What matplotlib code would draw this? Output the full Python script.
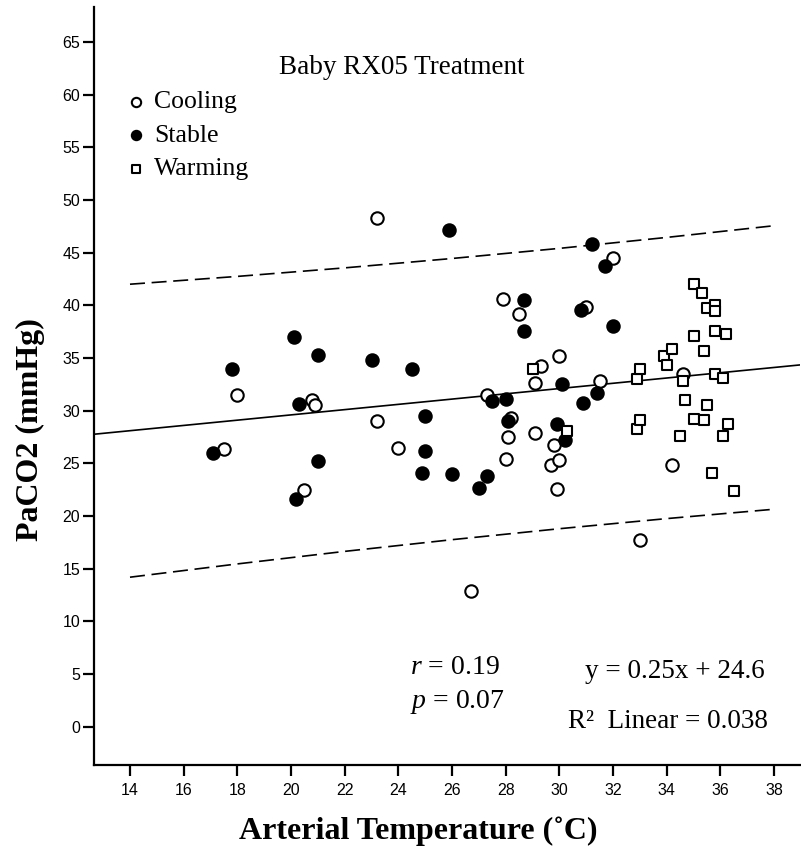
import matplotlib
matplotlib.use("Agg")
import matplotlib.pyplot as plt
import numpy as np

plt.rcParams["mathtext.fontset"] = "custom"
plt.rcParams["mathtext.rm"] = "Liberation Serif"
plt.rcParams["mathtext.it"] = "Liberation Serif:italic"

# Arterial temperature (deg C) and PaCO2 (mmHg) by treatment phase
cooling_temp = [17.5, 18.0, 20.5, 20.8, 20.9, 23.2, 23.2, 24.0, 26.7, 27.3,
                27.9, 28.0, 28.1, 28.2, 28.5, 29.1, 29.1, 29.3, 29.7, 29.8,
                29.9, 30.0, 30.0, 31.0, 31.5, 32.0, 33.0, 34.2, 34.6]
cooling_paco2 = [26.4, 31.5, 22.5, 31.0, 30.5, 48.3, 29.0, 26.5, 12.9, 31.5,
                 40.6, 25.4, 27.5, 29.3, 39.2, 32.6, 27.9, 34.2, 24.8, 26.7,
                 22.6, 35.2, 25.3, 39.8, 32.8, 44.5, 17.7, 24.8, 33.5]

stable_temp = [17.1, 17.8, 20.1, 20.2, 20.3, 21.0, 21.0, 23.0, 24.5, 24.9,
               25.0, 25.0, 25.9, 26.0, 27.0, 27.3, 27.5, 28.0, 28.1, 28.7,
               28.7, 29.9, 30.1, 30.2, 30.8, 30.9, 31.2, 31.4, 31.7, 32.0]
stable_paco2 = [26.0, 34.0, 37.0, 21.6, 30.6, 35.3, 25.2, 34.8, 34.0, 24.1,
                29.5, 26.2, 47.1, 24.0, 22.7, 23.8, 30.9, 31.1, 29.0, 40.5,
                37.6, 28.7, 32.5, 27.2, 39.6, 30.7, 45.8, 31.7, 43.7, 38.0]

warming_temp = [29.0, 30.3, 32.9, 32.9, 33.0, 33.0, 33.9, 34.0, 34.2, 34.5,
                34.6, 34.7, 35.0, 35.0, 35.0, 35.3, 35.4, 35.4, 35.5, 35.5,
                35.7, 35.8, 35.8, 35.8, 35.8, 36.1, 36.1, 36.2, 36.3, 36.5]
warming_paco2 = [34.0, 28.1, 33.0, 28.3, 34.0, 29.1, 35.2, 34.3, 35.9, 27.6,
                 32.8, 31.0, 42.0, 37.1, 29.2, 41.2, 35.7, 29.1, 39.7, 30.5,
                 24.1, 40.0, 39.5, 37.6, 33.5, 33.1, 27.6, 37.3, 28.7, 22.4]

# Linear fit and 95% prediction interval for individual values
fit_slope = 0.25
fit_intercept = 24.6
band_temp = [14, 18, 22, 26, 30, 34, 38]
band_upper = [42.00, 42.74, 43.55, 44.44, 45.40, 46.44, 47.55]
band_lower = [14.20, 15.46, 16.65, 17.76, 18.80, 19.76, 20.65]

x_ticks = list(range(14, 39, 2))
y_ticks = list(range(0, 66, 5))

serif = "Liberation Serif"
sans = "Liberation Sans"

fig = plt.figure(figsize=(8.01, 8.47), dpi=100)
ax = fig.add_axes([0.1174, 0.0968, 0.8814, 0.8949])
ax.set_xlim(12.66, 38.97)
ax.set_ylim(-3.62, 68.3)

ax.scatter(cooling_temp, cooling_paco2, s=80, marker="o", facecolors="white",
           edgecolors="black", linewidths=1.5, zorder=3, label="Cooling")
ax.scatter(stable_temp, stable_paco2, s=80, marker="o", facecolors="black",
           edgecolors="black", linewidths=1.5, zorder=3, label="Stable")
ax.scatter(warming_temp, warming_paco2, s=52, marker="s", facecolors="white",
           edgecolors="black", linewidths=1.5, zorder=3, label="Warming")

xl = np.array(ax.get_xlim())
ax.plot(xl, fit_slope * xl + fit_intercept, color="black", lw=1.2, zorder=2)
ax.plot(band_temp, band_upper, color="black", lw=1.2, dashes=(9, 4), zorder=2)
ax.plot(band_temp, band_lower, color="black", lw=1.2, dashes=(9, 4), zorder=2)

ax.set_xticks(x_ticks)
ax.set_yticks(y_ticks)
ax.tick_params(direction="out", length=8, width=1.6, labelsize=11.5)
ax.tick_params(axis="x", pad=5)
ax.tick_params(axis="y", pad=2)
for lab in ax.get_xticklabels() + ax.get_yticklabels():
    lab.set_fontfamily(sans)
for side in ("top", "right"):
    ax.spines[side].set_visible(False)
for side in ("left", "bottom"):
    ax.spines[side].set_linewidth(1.6)

ax.set_xlabel("Arterial Temperature (\u02daC)", fontfamily=serif,
              fontweight="bold", fontsize=23)
ax.set_ylabel("PaCO2 (mmHg)", fontfamily=serif, fontweight="bold",
              fontsize=23)
ax.xaxis.set_label_coords(0.459, -0.088)
ax.yaxis.set_label_coords(-0.0907, 0.442)
ax.xaxis.label.set_va("center")
ax.yaxis.label.set_va("center")

ax.text(24.14, 62.6, "Baby RX05 Treatment", fontfamily=serif, fontsize=19.5,
        ha="center", va="center")
ax.text(24.44, 5.6, "$r$ = 0.19", fontfamily=serif, fontsize=20,
        ha="left", va="center")
ax.text(24.44, 2.4, "$p$ = 0.07", fontfamily=serif, fontsize=20,
        ha="left", va="center")
ax.text(37.67, 5.3, "y = 0.25x + 24.6", fontfamily=serif, fontsize=19.5,
        ha="right", va="center")
ax.text(37.78, 0.5, "R\u00b2  Linear = 0.038", fontfamily=serif, fontsize=19.5,
        ha="right", va="center")

ax.legend(loc="upper left", bbox_to_anchor=(0.045, 0.89), frameon=False,
          prop={"family": serif, "size": 18.5}, markerscale=0.75,
          handlelength=0.8, handletextpad=0.3, labelspacing=0.41,
          borderpad=0, borderaxespad=0)

fig.savefig("out.png", dpi=100)
